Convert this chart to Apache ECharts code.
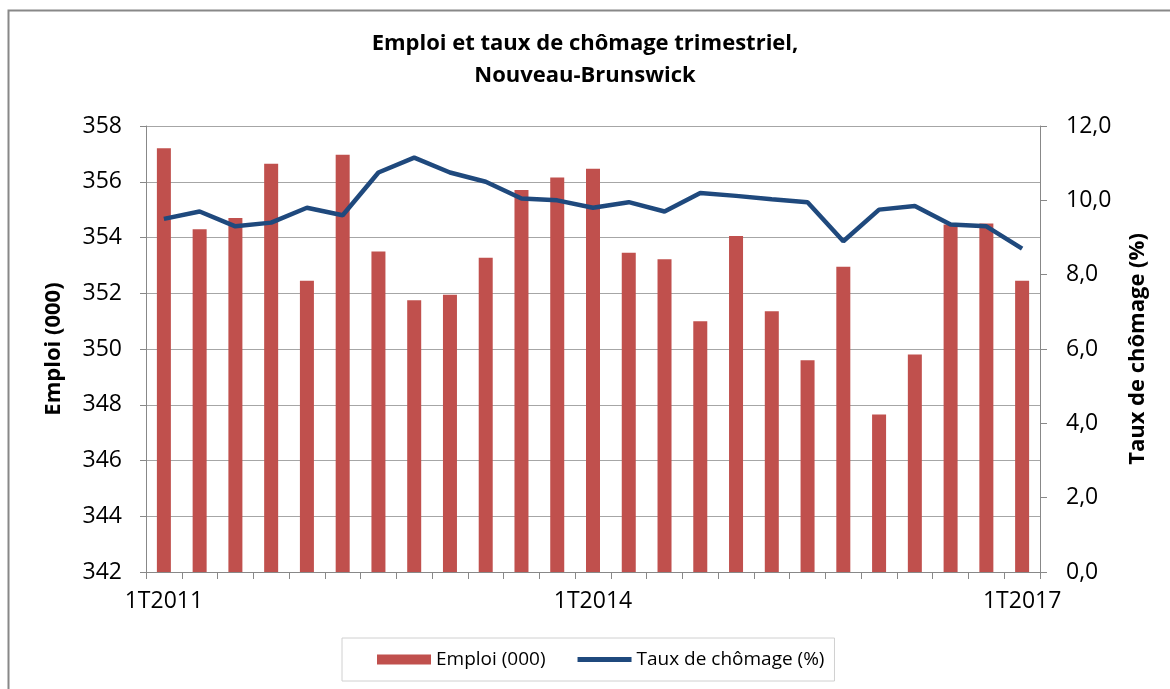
<!DOCTYPE html>
<html>
<head>
<meta charset="utf-8">
<script src="https://cdn.jsdelivr.net/npm/echarts@6/dist/echarts.min.js"></script>
<style>html,body{margin:0;padding:0;background:#fff;}#c{width:1170px;height:689px;}</style>
</head>
<body>
<div id="c"></div>
<script>
const categories = [
  '1T2011','2T2011','3T2011','4T2011',
  '1T2012','2T2012','3T2012','4T2012',
  '1T2013','2T2013','3T2013','4T2013',
  '1T2014','2T2014','3T2014','4T2014',
  '1T2015','2T2015','3T2015','4T2015',
  '1T2016','2T2016','3T2016','4T2016',
  '1T2017'
];
const emploi = [
  357.2, 354.3, 354.7, 356.65,
  352.45, 356.97, 353.5, 351.75,
  351.95, 353.27, 355.7, 356.15,
  356.47, 353.45, 353.22, 351.0,
  354.05, 351.35, 349.6, 352.95,
  347.65, 349.8, 354.47, 354.5,
  352.45
];
const chomage = [
  9.5, 9.7, 9.3, 9.4,
  9.8, 9.6, 10.75, 11.15,
  10.75, 10.5, 10.05, 10.0,
  9.8, 9.95, 9.7, 10.2,
  10.12, 10.03, 9.95, 8.9,
  9.75, 9.85, 9.35, 9.3,
  8.7
];
const leftTicks = {min: 342, max: 358, interval: 2};
const rightTicks = {min: 0, max: 12, interval: 2};

const FONT = '"Open Sans", Lato, sans-serif';
const chart = echarts.init(document.getElementById('c'));
chart.setOption({
  animation: false,
  backgroundColor: '#fff',
  textStyle: {fontFamily: FONT, color: '#000'},
  graphic: [{
    type: 'rect', left: 6, top: 8,
    shape: {width: 1200, height: 720},
    style: {fill: 'none', stroke: '#888', lineWidth: 2}
  }],
  title: {
    text: 'Emploi et taux de chômage trimestriel,\nNouveau-Brunswick',
    left: 'center', top: 23,
    textStyle: {fontFamily: FONT, fontSize: 22, fontWeight: 'bold', color: '#000', lineHeight: 32}
  },
  legend: {
    left: 342, top: 638, width: 509, height: 44,
    padding: [12, 10, 12, 35],
    borderColor: '#d0d0d0', borderWidth: 1,
    itemWidth: 54, itemHeight: 10, itemGap: 32,
    symbolKeepAspect: true,
    textStyle: {fontFamily: FONT, fontSize: 19, color: '#000'},
    data: [
      {name: 'Emploi (000)', icon: 'rect'},
      {name: 'Taux de chômage (%)', icon: 'path://M0,0 L54,0 L54,5 L0,5 Z'}
    ]
  },
  grid: {left: 146, right: 130, top: 126, bottom: 117},
  xAxis: {
    type: 'category', data: categories,
    axisLine: {lineStyle: {color: '#888'}},
    axisTick: {show: true, interval: 0, length: 7, lineStyle: {color: '#888'}},
    axisLabel: {interval: 11, fontSize: 23, color: '#000', margin: 18, fontFamily: FONT}
  },
  yAxis: [{
    type: 'value', min: leftTicks.min, max: leftTicks.max, interval: leftTicks.interval,
    name: 'Emploi (000)', nameLocation: 'middle', nameGap: 81,
    nameTextStyle: {fontFamily: FONT, fontSize: 22, fontWeight: 'bold', color: '#000'},
    axisLine: {show: true, lineStyle: {color: '#888'}},
    axisTick: {show: true, length: 6, lineStyle: {color: '#888'}},
    axisLabel: {fontSize: 23, color: '#000', margin: 24, fontFamily: FONT},
    splitLine: {show: true, lineStyle: {color: '#a6a6a6', width: 1}}
  }, {
    type: 'value', min: rightTicks.min, max: rightTicks.max, interval: rightTicks.interval,
    name: 'Taux de chômage (%)', nameLocation: 'middle', nameGap: 87,
    nameTextStyle: {fontFamily: FONT, fontSize: 22, fontWeight: 'bold', color: '#000'},
    axisLine: {show: true, lineStyle: {color: '#888'}},
    axisTick: {show: true, length: 7, lineStyle: {color: '#888'}},
    axisLabel: {fontSize: 23, color: '#000', margin: 26, fontFamily: FONT,
      formatter: v => v.toFixed(1).replace('.', ',')},
    splitLine: {show: false}
  }],
  series: [{
    name: 'Emploi (000)', type: 'bar', yAxisIndex: 0, data: emploi,
    barWidth: 14,
    itemStyle: {color: '#C0504D'}
  }, {
    name: 'Taux de chômage (%)', type: 'line', yAxisIndex: 1, data: chomage,
    symbol: 'none', smooth: false,
    lineStyle: {color: '#1F497D', width: 4.5},
    itemStyle: {color: '#1F497D'}
  }]
});
</script>
</body>
</html>
